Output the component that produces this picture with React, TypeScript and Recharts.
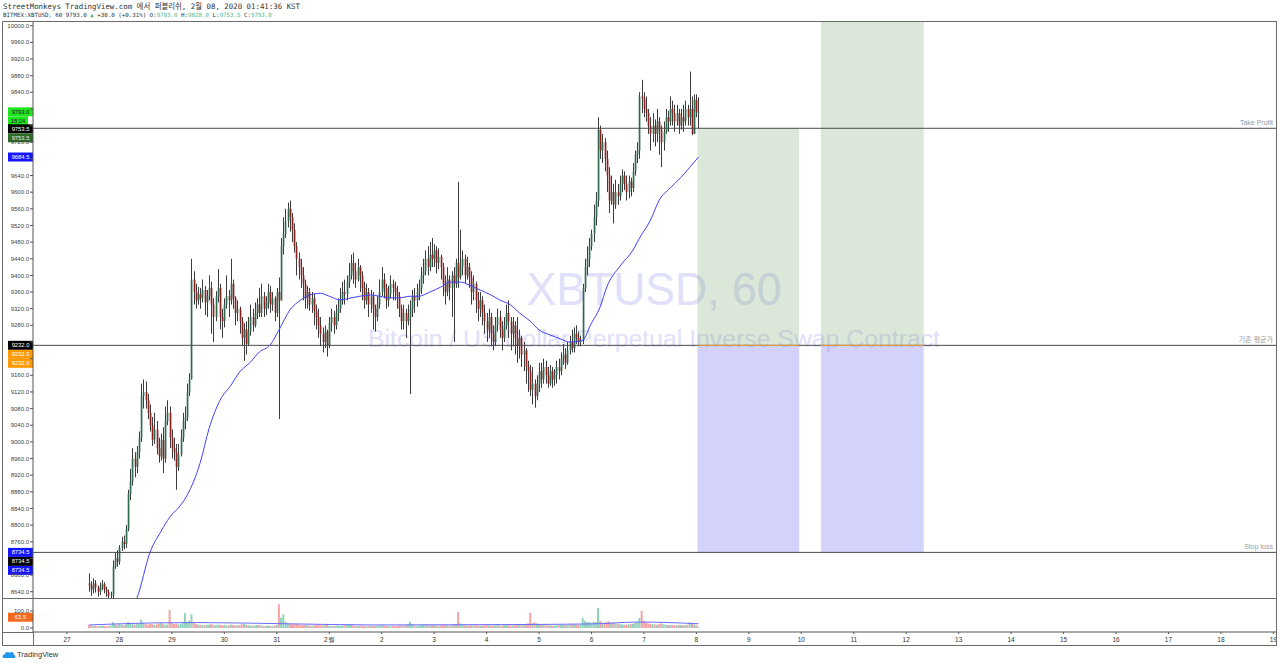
import React from 'react'
import { ComposedChart, Bar, Line, XAxis, YAxis, ReferenceLine, ReferenceArea, Cell } from 'recharts'

// hourly candles, Jan 27 10:00 -> Feb 8 01:00 (hour 0 = Jan 27 00:00)
const FIRST_HOUR = 10
const FIRST_OPEN = 8660

const closes = [
  // Jan 27
  8655, 8645, 8660, 8650, 8640, 8652, 8658, 8646, 8640, 8630, 8632, 8700, 8720, 8712,
  // Jan 28
  8745, 8760, 8755, 8790, 8875, 8905, 8960, 8940, 8975, 9010, 9110, 9120, 9100, 9070, 9040, 9005, 9030, 8985, 8965, 9005, 8960, 9050, 9070, 9010,
  // Jan 29
  8985, 8975, 8940, 8970, 9010, 9050, 9060, 9120, 9150, 9390, 9360, 9340, 9355, 9345, 9365, 9335, 9350, 9370, 9330, 9300, 9350, 9370, 9300, 9290,
  // Jan 30
  9330, 9350, 9340, 9380, 9345, 9310, 9320, 9290, 9250, 9270, 9235, 9265, 9300, 9280, 9310, 9330, 9310, 9350, 9320, 9335, 9360, 9330, 9345, 9310,
  // Jan 31
  9360, 9340, 9470, 9500, 9530, 9560, 9540, 9510, 9470, 9440, 9420, 9400, 9380, 9345, 9360, 9330, 9345, 9315, 9300, 9280, 9260, 9240, 9265, 9230,
  // Feb 1
  9285, 9300, 9280, 9310, 9320, 9340, 9360, 9355, 9385, 9400, 9430, 9410, 9390, 9420, 9400, 9370, 9340, 9360, 9330, 9350, 9320, 9300, 9330, 9360,
  // Feb 2
  9390, 9370, 9340, 9355, 9380, 9370, 9360, 9350, 9320, 9290, 9310, 9290, 9300, 9320, 9350, 9340, 9360, 9370, 9400, 9410, 9440, 9420, 9450, 9440,
  // Feb 3
  9460, 9430, 9445, 9420, 9380, 9360, 9390, 9370, 9400, 9380, 9430, 9395, 9420, 9440, 9400, 9420, 9395, 9360, 9380, 9340, 9320, 9340, 9310, 9290,
  // Feb 4
  9270, 9300, 9260, 9240, 9280, 9300, 9270, 9250, 9280, 9310, 9290, 9260, 9280, 9250, 9230, 9250, 9210, 9220, 9180, 9170, 9125, 9140, 9110, 9140,
  // Feb 5
  9170, 9150, 9180, 9160, 9140, 9170, 9150, 9160, 9180, 9170, 9200, 9210, 9190, 9220, 9240, 9225, 9260, 9250, 9240, 9245, 9370, 9420, 9440, 9470,
  // Feb 6
  9500, 9540, 9580, 9750, 9700, 9720, 9680, 9640, 9580, 9600, 9570, 9600, 9590, 9620, 9640, 9620, 9600, 9625, 9610, 9650, 9690, 9700, 9830, 9825,
  // Feb 7
  9800, 9790, 9760, 9740, 9760, 9740, 9770, 9750, 9720, 9745, 9780, 9770, 9800, 9790, 9770, 9790, 9760, 9780, 9770, 9800, 9780, 9800, 9740, 9822,
  // Feb 8
  9793, 9793,
]

const highs = [
  8684, 8665, 8672, 8668, 8655, 8662, 8668, 8663, 8652, 8645, 8640, 8715, 8735, 8740,
  8752, 8772, 8775, 8800, 8885, 8935, 8985, 8975, 8990, 9025, 9140, 9150, 9145, 9115, 9090, 9060, 9070, 9050, 9010, 9020, 9035, 9085, 9100, 9085,
  9030, 9010, 8995, 8995, 9030, 9070, 9085, 9140, 9165, 9440, 9410, 9380, 9372, 9370, 9390, 9375, 9365, 9400, 9385, 9345, 9362, 9415, 9380, 9320,
  9345, 9400, 9365, 9440, 9390, 9350, 9340, 9325, 9300, 9285, 9290, 9300, 9330, 9320, 9335, 9345, 9370, 9380, 9360, 9350, 9380, 9375, 9360, 9350,
  9370, 9395, 9490, 9540, 9560, 9575, 9580, 9550, 9525, 9480, 9455, 9440, 9420, 9390, 9375, 9370, 9360, 9355, 9330, 9320, 9300, 9275, 9280, 9270,
  9300, 9320, 9315, 9330, 9345, 9370, 9385, 9390, 9400, 9430, 9450, 9455, 9430, 9440, 9425, 9410, 9385, 9380, 9370, 9365, 9360, 9330, 9350, 9390,
  9420, 9405, 9380, 9375, 9400, 9390, 9385, 9375, 9360, 9330, 9330, 9320, 9330, 9340, 9365, 9370, 9380, 9390, 9420, 9440, 9460, 9470, 9480, 9490,
  9475, 9470, 9465, 9450, 9430, 9400, 9420, 9400, 9410, 9420, 9440, 9625, 9510, 9460, 9450, 9445, 9430, 9410, 9400, 9385, 9360, 9360, 9350, 9330,
  9310, 9320, 9310, 9280, 9300, 9320, 9315, 9290, 9300, 9330, 9340, 9300, 9300, 9290, 9300, 9270, 9255, 9240, 9225, 9195, 9185, 9180, 9150, 9160,
  9190, 9190, 9200, 9195, 9180, 9185, 9180, 9175, 9195, 9200, 9215, 9235, 9225, 9240, 9255, 9270, 9275, 9280, 9265, 9255, 9380, 9440, 9470, 9490,
  9510, 9570, 9600, 9780, 9760, 9740, 9730, 9700, 9660, 9640, 9620, 9630, 9620, 9640, 9655, 9650, 9640, 9640, 9635, 9670, 9700, 9720, 9840, 9870,
  9840, 9830, 9800, 9780, 9790, 9775, 9800, 9780, 9760, 9770, 9800, 9795, 9830, 9820, 9810, 9810, 9800, 9800, 9810, 9820, 9810, 9890, 9830, 9835,
  9835, 9828,
]

const lows = [
  8640, 8630, 8636, 8638, 8628, 8632, 8644, 8636, 8628, 8620, 8615, 8625, 8695, 8700,
  8705, 8738, 8742, 8745, 8785, 8860, 8895, 8915, 8925, 8960, 9000, 9080, 9080, 9055, 9025, 8990, 8995, 8970, 8950, 8955, 8925, 8950, 9040, 8985,
  8960, 8955, 8885, 8930, 8965, 9000, 9030, 9050, 9110, 9150, 9330, 9320, 9330, 9320, 9335, 9305, 9300, 9340, 9260, 9240, 9290, 9335, 9270, 9250,
  9275, 9320, 9300, 9330, 9320, 9280, 9290, 9260, 9230, 9195, 9210, 9230, 9255, 9265, 9275, 9295, 9300, 9300, 9300, 9305, 9320, 9310, 9315, 9290,
  9300, 9055, 9340, 9450, 9490, 9515, 9505, 9480, 9455, 9400, 9390, 9370, 9340, 9320, 9320, 9315, 9310, 9280, 9270, 9250, 9230, 9215, 9225, 9205,
  9225, 9265, 9260, 9270, 9290, 9310, 9330, 9330, 9340, 9370, 9390, 9380, 9370, 9385, 9360, 9340, 9320, 9330, 9300, 9310, 9270, 9265, 9290, 9320,
  9350, 9345, 9320, 9325, 9345, 9340, 9340, 9320, 9300, 9270, 9270, 9250, 9280, 9115, 9300, 9310, 9325, 9340, 9355, 9380, 9400, 9400, 9410, 9420,
  9420, 9405, 9415, 9390, 9350, 9330, 9350, 9340, 9300, 9240, 9370, 9370, 9390, 9400, 9380, 9390, 9370, 9330, 9340, 9310, 9290, 9300, 9280, 9260,
  9240, 9250, 9230, 9220, 9230, 9265, 9250, 9220, 9240, 9270, 9250, 9220, 9230, 9210, 9190, 9200, 9180, 9170, 9140, 9120, 9110, 9090, 9082, 9100,
  9120, 9130, 9140, 9140, 9130, 9135, 9130, 9135, 9140, 9150, 9160, 9185, 9175, 9185, 9210, 9215, 9215, 9235, 9230, 9230, 9235, 9360, 9400, 9420,
  9460, 9480, 9520, 9565, 9680, 9670, 9650, 9600, 9550, 9570, 9525, 9560, 9570, 9580, 9600, 9605, 9580, 9585, 9590, 9600, 9640, 9670, 9680, 9790,
  9780, 9770, 9740, 9700, 9720, 9710, 9720, 9690, 9660, 9700, 9740, 9745, 9760, 9760, 9745, 9760, 9740, 9750, 9745, 9760, 9760, 9760, 9737, 9740,
  9780, 9753.5,
]

const volumes = [
  18, 14, 12, 13, 10, 12, 14, 13, 10, 12, 15, 35, 22, 18,
  24, 20, 17, 22, 35, 30, 27, 20, 23, 25, 50, 31, 24, 20, 25, 23, 18, 20, 25, 29, 24, 19, 22, 105,
  29, 23, 26, 20, 24, 31, 88, 36, 43, 80, 33, 24, 20, 18, 18, 17, 19, 20, 23, 18, 17, 20, 18, 16,
  18, 15, 17, 21, 18, 15, 17, 18, 22, 24, 18, 17, 15, 13, 15, 17, 18, 15, 13, 12, 15, 13, 12, 15,
  18, 140, 60, 80, 36, 27, 24, 21, 23, 24, 21, 18, 17, 19, 18, 15, 13, 15, 17, 18, 16, 14, 17, 18,
  13, 12, 11, 13, 15, 12, 14, 17, 18, 21, 18, 15, 13, 12, 13, 15, 12, 11, 13, 14, 12, 11, 13, 15,
  17, 15, 13, 12, 11, 13, 12, 11, 14, 16, 13, 18, 19, 37, 21, 15, 13, 14, 17, 18, 19, 17, 15, 18,
  17, 15, 13, 16, 18, 17, 15, 13, 17, 22, 24, 94, 27, 19, 17, 15, 13, 16, 14, 17, 15, 13, 14, 16,
  17, 16, 14, 13, 15, 17, 14, 13, 16, 18, 17, 15, 14, 16, 17, 18, 19, 21, 24, 28, 90, 29, 33, 27,
  24, 19, 18, 17, 16, 15, 14, 13, 16, 17, 18, 19, 17, 18, 21, 19, 23, 20, 18, 21, 60, 42, 33, 36,
  30, 36, 35, 118, 42, 33, 30, 36, 39, 29, 33, 27, 24, 23, 21, 19, 20, 22, 23, 24, 30, 33, 60, 100,
  42, 33, 27, 24, 23, 21, 19, 24, 27, 22, 20, 18, 19, 18, 17, 16, 18, 17, 16, 18, 19, 33, 24, 21,
  18, 8,
]

// moving average (hour, price)
const maHours = [28, 32, 38, 43, 47, 52, 55, 61, 65, 70, 75, 79, 84, 88, 93, 97, 102, 107, 111, 116, 120, 125, 130, 134, 139, 143, 148, 152, 157, 161, 166, 171, 175, 180, 184, 189, 194, 198, 203, 207, 212, 216, 221, 226, 230, 235, 237, 239, 244, 247, 253, 259, 262, 267, 271, 276, 281, 285, 289]
const maValues = [8590, 8625, 8735, 8785, 8819, 8848, 8872, 8951, 9032, 9100, 9136, 9168, 9192, 9216, 9233, 9269, 9317, 9341, 9353, 9357, 9350, 9341, 9346, 9350, 9353, 9350, 9346, 9346, 9350, 9350, 9360, 9372, 9384, 9384, 9377, 9365, 9353, 9341, 9329, 9310, 9290, 9269, 9257, 9247, 9240, 9242, 9250, 9275, 9325, 9372, 9422, 9461, 9490, 9533, 9581, 9610, 9636, 9660, 9684.5]

const volMaHours = [10, 40, 60, 100, 140, 200, 240, 262, 289]
const volMaValues = [18, 30, 32, 25, 18, 20, 24, 35, 25]

const dayLabels = ['27', '28', '29', '30', '31', '2월', '2', '3', '4', '5', '6', '7', '8', '9', '10', '11', '12', '13', '14', '15', '16', '17', '18', '19']
const priceTicks = [8640, 8680, 8720, 8760, 8800, 8840, 8880, 8920, 8960, 9000, 9040, 9080, 9120, 9160, 9200, 9240, 9280, 9320, 9360, 9400, 9440, 9480, 9520, 9560, 9600, 9640, 9680, 9720, 9760, 9800, 9840, 9880, 9920, 9960, 10000]
// tick labels that sit fully under the coloured price tags
const coveredTicks = [9800, 9760, 9680, 9240, 9200, 8720]
const volumeTicks = [0, 100]

const takeProfit = 9753.5
const entryPrice = 9232
const stopLoss = 8734.5
const lastPrice = 9793
const maLast = 9684.5
const volMaLast = 63.5
const zoneA = [288.5, 335]
const zoneB = [345, 392]

const PRICE_DOMAIN: [number, number] = [8624.9, 10008.9]
const TIME_DOMAIN: [number, number] = [-15.56, 553.67]
const VOL_DOMAIN: [number, number] = [-23.5, 176.5]

const headerLine1 = 'StreetMonkeys TradingView.com 에서 퍼블리쉬, 2월 08, 2020 01:41:36 KST'
const headerLine2: [string, boolean][] = [
  ['BITMEX:XBTUSD, 60 9793.0 ', false],
  ['▲', true],
  [' +30.0 (+0.31%) O:', false],
  ['9793.0', true],
  [' H:', false],
  ['9828.0', true],
  [' L:', false],
  ['9753.5', true],
  [' C:', false],
  ['9793.0', true],
]

const candles = closes.map((c, i) => {
  const o = i === 0 ? FIRST_OPEN : closes[i - 1]
  const h = Math.max(highs[i], o, c)
  const l = Math.min(lows[i], o, c)
  return { t: FIRST_HOUR + i, open: o, close: c, high: h, low: l, range: [l, h] as any, vol: volumes[i] as any, ma: null as number | null, vma: null as number | null }
})
maHours.forEach((h, k) => {
  const row = candles.find((d) => d.t === h)
  if (row) row.ma = maValues[k]
  else candles.unshift({ t: h, open: NaN, close: NaN, high: NaN, low: NaN, range: null, vol: null, ma: maValues[k], vma: null })
})
candles.sort((a, b) => a.t - b.t)
volMaHours.forEach((h, k) => {
  const row = candles.find((d) => d.t === h)
  if (row) row.vma = volMaValues[k]
})

const Candle = (props: any) => {
  const { x, y, width, height, payload } = props
  if (!payload || !payload.range) return null
  const top = Math.min(y, y + height)
  const bot = Math.max(y, y + height)
  const span = payload.high - payload.low || 1
  const py = (p: number) => top + ((payload.high - p) / span) * (bot - top)
  const cx = Math.round(x + width / 2)
  const up = payload.close >= payload.open
  const bTop = py(Math.max(payload.open, payload.close))
  const bBot = py(Math.min(payload.open, payload.close))
  return (
    <g>
      <line x1={cx + 0.5} x2={cx + 0.5} y1={top} y2={bot} stroke="#3c3c3c" strokeWidth={1} />
      <rect x={cx - 0.3} y={bTop} width={1.7} height={Math.max(1, bBot - bTop)} fill={up ? '#2f6b50' : '#8a2222'} />
    </g>
  )
}

const PriceTick = (props: any) => {
  const { x, y, payload } = props
  if (coveredTicks.includes(payload.value)) return null
  return (
    <text x={x} y={y + 2.1} textAnchor="end" fontSize={6} fill="#444">
      {Number(payload.value).toFixed(1)}
    </text>
  )
}

type Tag = { text: string; bg: string; fg: string; dy: number; w?: number }

const AxisTags = (props: any) => {
  const { viewBox, tags } = props
  if (!viewBox) return null
  return (
    <g>
      {tags.map((t: Tag, k: number) => {
        const w = t.w ?? 25
        const x0 = viewBox.x - 25
        return (
          <g key={k}>
            <rect x={x0} y={viewBox.y + t.dy - 4.5} width={w} height={9} fill={t.bg} />
            <text x={x0 + w / 2} y={viewBox.y + t.dy + 2.1} textAnchor="middle" fontSize={5.8} fill={t.fg} fontFamily="Liberation Sans, Arial">
              {t.text}
            </text>
          </g>
        )
      })}
    </g>
  )
}

const RightNote = (props: any) => {
  const { viewBox, text } = props
  if (!viewBox) return null
  return (
    <text x={viewBox.x + viewBox.width - 4} y={viewBox.y - 3} textAnchor="end" fontSize={7} fill="#9a9a9a" fontFamily="Liberation Sans, 'Noto Sans CJK KR', Arial">
      {text}
    </text>
  )
}

const upTeal = '#53b987'
const HEADER_FS = 5.8
const CHAR_W = HEADER_FS * 0.602

const HeaderLine2 = () => {
  let col = 0
  return (
    <g fontFamily="'DejaVu Sans Mono', monospace" fontSize={HEADER_FS}>
      {headerLine2.map(([s, teal], k) => {
        const lead = s.length - s.trimStart().length
        const body = s.trim()
        const x = 3 + (col + lead) * CHAR_W
        col += s.length
        return (
          <text key={k} x={x} y={17.2} fill={teal ? upTeal : '#333'}>
            {body}
          </text>
        )
      })}
    </g>
  )
}

export default function App() {
  return (
    <div style={{ position: 'absolute', left: 0, top: 0, width: 1280, height: 664, background: '#fff', fontFamily: 'Liberation Sans, Arial, sans-serif', overflow: 'hidden' }}>
      {/* header */}
      <svg width={1280} height={22} style={{ position: 'absolute', left: 0, top: 0 }}>
        <text x={3} y={8.5} fontSize={7.5} fill="#333" fontFamily="'DejaVu Sans Mono', 'Noto Sans CJK KR', monospace" textLength={297} lengthAdjust="spacingAndGlyphs">
          {headerLine1}
        </text>
        <HeaderLine2 />
      </svg>

      {/* watermark */}
      <svg width={1280} height={664} style={{ position: 'absolute', left: 0, top: 0 }}>
        <text x={654} y={305} textAnchor="middle" fontSize={46} fill="#e0e0fa" textLength={255} lengthAdjust="spacingAndGlyphs">
          XBTUSD, 60
        </text>
        <text x={654} y={347} textAnchor="middle" fontSize={23} fill="#e0e0fa" textLength={572} lengthAdjust="spacingAndGlyphs">
          Bitcoin / US Dollar Perpetual Inverse Swap Contract
        </text>
      </svg>

      {/* price pane */}
      <div style={{ position: 'absolute', left: 3, top: 22 }}>
        <ComposedChart width={1274} height={576} data={candles} margin={{ top: 0, right: 0, bottom: 0, left: 0 }}>
          <XAxis dataKey="t" type="number" domain={TIME_DOMAIN} allowDataOverflow hide />
          <YAxis
            type="number"
            domain={PRICE_DOMAIN}
            allowDataOverflow
            ticks={priceTicks}
            interval={0}
            width={30}
            tickSize={3}
            tickMargin={1}
            tick={<PriceTick />}
            axisLine={{ stroke: '#555' }}
            tickLine={{ stroke: '#555' }}
          />
          <ReferenceArea x1={zoneA[0]} x2={zoneA[1]} y1={entryPrice} y2={takeProfit} fill="#6ea064" fillOpacity={0.25} stroke="none" ifOverflow="hidden" />
          <ReferenceArea x1={zoneA[0]} x2={zoneA[1]} y1={stopLoss} y2={entryPrice} fill="#5a5af0" fillOpacity={0.27} stroke="none" ifOverflow="hidden" />
          <ReferenceArea x1={zoneB[0]} x2={zoneB[1]} y1={entryPrice} y2={PRICE_DOMAIN[1]} fill="#6ea064" fillOpacity={0.25} stroke="none" ifOverflow="hidden" />
          <ReferenceArea x1={zoneB[0]} x2={zoneB[1]} y1={stopLoss} y2={entryPrice} fill="#5a5af0" fillOpacity={0.27} stroke="none" ifOverflow="hidden" />
          <ReferenceLine y={takeProfit} stroke="#4a4a4a" strokeWidth={1} label={<RightNote text="Take Profit" />} />
          <ReferenceLine y={entryPrice} stroke="#4a4a4a" strokeWidth={1} label={<RightNote text="기존 평균가" />} />
          <ReferenceLine y={stopLoss} stroke="#4a4a4a" strokeWidth={1} label={<RightNote text="Stop loss" />} />
          <ReferenceLine segment={[{ x: zoneA[0], y: entryPrice }, { x: zoneA[1], y: entryPrice }]} stroke="#f5a742" strokeWidth={1} />
          <ReferenceLine segment={[{ x: zoneB[0], y: entryPrice }, { x: zoneB[1], y: entryPrice }]} stroke="#f5a742" strokeWidth={1} />
          <Bar dataKey="range" barSize={2} shape={<Candle />} isAnimationActive={false} />
          <Line dataKey="ma" type="monotone" stroke="#4040ff" strokeWidth={1} dot={false} connectNulls isAnimationActive={false} />
          <ReferenceLine
            y={lastPrice}
            stroke="none"
            label={<AxisTags tags={[{ text: '9793.0', bg: '#1ee51e', fg: '#1a1a1a', dy: 0 }, { text: '18:24', bg: '#1ee51e', fg: '#1a1a1a', dy: 9, w: 20 }]} />}
          />
          <ReferenceLine
            y={takeProfit}
            stroke="none"
            label={<AxisTags tags={[{ text: '9753.5', bg: '#000', fg: '#fff', dy: 0.5 }, { text: '9753.5', bg: '#2f6b26', fg: '#e8e8e8', dy: 9.5 }]} />}
          />
          <ReferenceLine y={maLast} stroke="none" label={<AxisTags tags={[{ text: '9684.5', bg: '#1515ff', fg: '#fff', dy: 0 }]} />} />
          <ReferenceLine
            y={entryPrice}
            stroke="none"
            label={<AxisTags tags={[{ text: '9232.0', bg: '#000', fg: '#fff', dy: 0 }, { text: '9232.0', bg: '#ff9a00', fg: '#fff', dy: 9 }, { text: '9232.0', bg: '#ff9a00', fg: '#fff', dy: 18 }]} />}
          />
          <ReferenceLine
            y={stopLoss}
            stroke="none"
            label={<AxisTags tags={[{ text: '8734.5', bg: '#1515ff', fg: '#fff', dy: 0 }, { text: '8734.5', bg: '#000', fg: '#fff', dy: 9 }, { text: '8734.5', bg: '#1515ff', fg: '#fff', dy: 18 }]} />}
          />
        </ComposedChart>
      </div>

      {/* volume pane + time axis */}
      <div style={{ position: 'absolute', left: 3, top: 598 }}>
        <ComposedChart width={1274} height={47} data={candles} margin={{ top: 0, right: 0, bottom: 0, left: 0 }}>
          <XAxis
            dataKey="t"
            type="number"
            domain={TIME_DOMAIN}
            allowDataOverflow
            ticks={dayLabels.map((_, d) => d * 24)}
            interval={0}
            height={13}
            tickSize={2}
            tickMargin={3}
            tickFormatter={(v: number) => dayLabels[Math.round(v / 24)]}
            tick={{ fontSize: 6.5, fill: '#333' }}
            axisLine={{ stroke: '#555' }}
            tickLine={{ stroke: '#555' }}
          />
          <YAxis
            type="number"
            domain={VOL_DOMAIN}
            allowDataOverflow
            ticks={volumeTicks}
            interval={0}
            width={30}
            tickSize={3}
            tickMargin={1}
            tickFormatter={(v: number) => v.toFixed(1)}
            tick={{ fontSize: 6, fill: '#444' }}
            axisLine={{ stroke: '#555' }}
            tickLine={{ stroke: '#555' }}
          />
          <Bar dataKey="vol" barSize={2} isAnimationActive={false}>
            {candles.map((d, i) => (
              <Cell key={i} fill={d.close >= d.open ? '#8fd3bd' : '#f4a3a3'} />
            ))}
          </Bar>
          <Line dataKey="vma" type="monotone" stroke="#6b6bff" strokeWidth={1} dot={false} connectNulls isAnimationActive={false} />
          <ReferenceLine y={volMaLast} stroke="none" label={<AxisTags tags={[{ text: '63.5', bg: '#f5691c', fg: '#fff', dy: 0 }]} />} />
        </ComposedChart>
      </div>

      {/* pane frames */}
      <svg width={1280} height={664} style={{ position: 'absolute', left: 0, top: 0, pointerEvents: 'none' }}>
        <g stroke="#6a6a6a" strokeWidth={1} fill="none">
          <line x1={2.5} x2={1277} y1={21.5} y2={21.5} />
          <line x1={2.5} x2={1277} y1={598.5} y2={598.5} />
          <line x1={2.5} x2={33} y1={632.5} y2={632.5} />
          <line x1={2.5} x2={1277} y1={645.5} y2={645.5} />
          <line x1={2.5} x2={2.5} y1={21.5} y2={645.5} />
          <line x1={33.5} x2={33.5} y1={632} y2={645.5} />
          <line x1={1276.5} x2={1276.5} y1={21.5} y2={645.5} />
        </g>
        <g transform="translate(3,650)">
          <path d="M1 8 C-1 8 -1 4.5 1.5 4.5 C2 2 5 1 6.5 3 C8 1 11.5 2 11 5 C13 5.5 13 8 11 8 Z" fill="#2196f3" />
        </g>
        <text x={17} y={657} fontSize={7.5} fill="#333">
          TradingView
        </text>
      </svg>
    </div>
  )
}
